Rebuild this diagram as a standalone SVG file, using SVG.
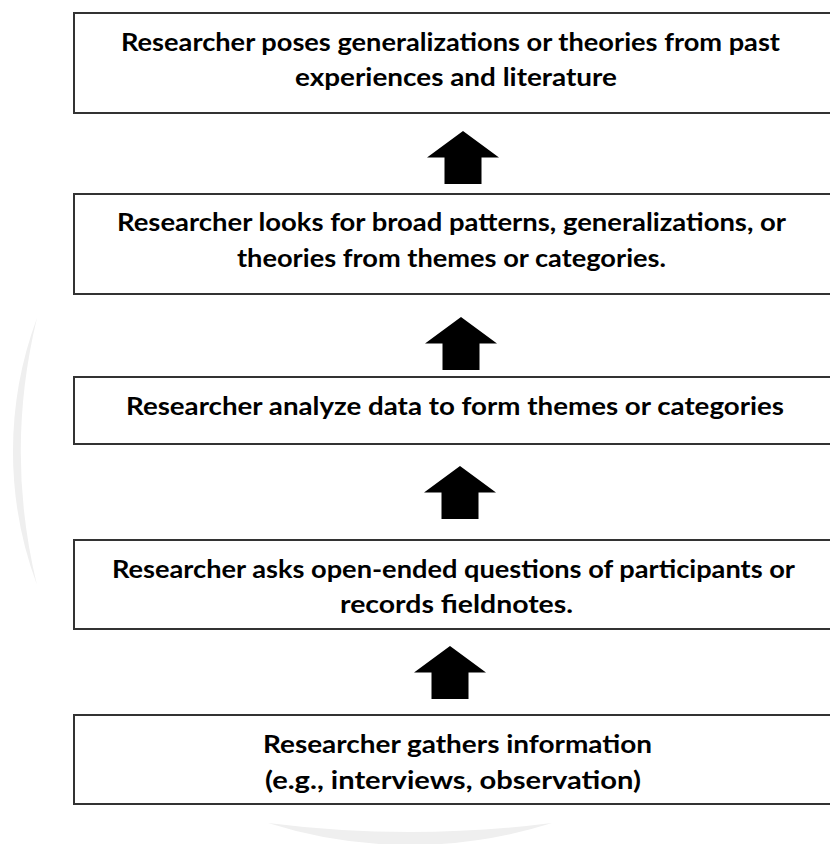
<svg xmlns="http://www.w3.org/2000/svg" width="830" height="844" viewBox="0 0 830 844">
  <style>
    .box { fill: #ffffff; stroke: #333333; stroke-width: 2; }
    .label { font-family: Lato, "Open Sans", "Liberation Sans", sans-serif; font-weight: bold; font-size: 25px; fill: #000000; text-anchor: middle; }
    .arrow { fill: #000000; }
    .mark { fill: #efefef; }
  </style>
  <defs>
    <!-- block arrow pointing up, tip at origin -->
    <path id="up-arrow" d="M0,0 L36,26.5 L18.5,26.5 L18.5,53 L-18.5,53 L-18.5,26.5 L-36,26.5 Z"/>
  </defs>

  <rect width="830" height="844" fill="#ffffff"/>

  <!-- faint background ring fragments -->
  <g id="backdrop">
    <path class="mark" d="M37,318 A383,383 0 0 0 37,585 A565,565 0 0 1 37,318 Z"/>
    <path class="mark" d="M268,823 A469,469 0 0 0 552,823 A1125,1125 0 0 1 268,823 Z"/>
  </g>

  <g id="connectors">
    <use href="#up-arrow" class="arrow" x="463" y="131"/>
    <use href="#up-arrow" class="arrow" x="461" y="317"/>
    <use href="#up-arrow" class="arrow" x="460" y="466"/>
    <use href="#up-arrow" class="arrow" x="450" y="646"/>
  </g>

  <g id="theories">
    <rect class="box" x="74" y="13" width="800" height="100"/>
    <text class="label" x="450.5" y="50.5" textLength="659" lengthAdjust="spacingAndGlyphs">Researcher poses generalizations or theories from past</text>
    <text class="label" x="456" y="86" textLength="322" lengthAdjust="spacingAndGlyphs">experiences and literature</text>
  </g>

  <g id="patterns">
    <rect class="box" x="74" y="194" width="800" height="100"/>
    <text class="label" x="451.5" y="231" textLength="669" lengthAdjust="spacingAndGlyphs">Researcher looks for broad patterns, generalizations, or</text>
    <text class="label" x="451.5" y="266.5" textLength="429" lengthAdjust="spacingAndGlyphs">theories from themes or categories.</text>
  </g>

  <g id="analyze">
    <rect class="box" x="74" y="377" width="800" height="67"/>
    <text class="label" x="455" y="415" textLength="658" lengthAdjust="spacingAndGlyphs">Researcher analyze data to form themes or categories</text>
  </g>

  <g id="questions">
    <rect class="box" x="74" y="540" width="800" height="89"/>
    <text class="label" x="453.5" y="577.5" textLength="683" lengthAdjust="spacingAndGlyphs">Researcher asks  open-ended questions of participants or</text>
    <text class="label" x="456.5" y="613" textLength="233" lengthAdjust="spacingAndGlyphs">records fieldnotes.</text>
  </g>

  <g id="gather">
    <rect class="box" x="74" y="715" width="800" height="89"/>
    <text class="label" x="457.5" y="753" textLength="389" lengthAdjust="spacingAndGlyphs">Researcher gathers information</text>
    <text class="label" x="453" y="788.5" textLength="376" lengthAdjust="spacingAndGlyphs">(e.g., interviews, observation)</text>
  </g>
</svg>
